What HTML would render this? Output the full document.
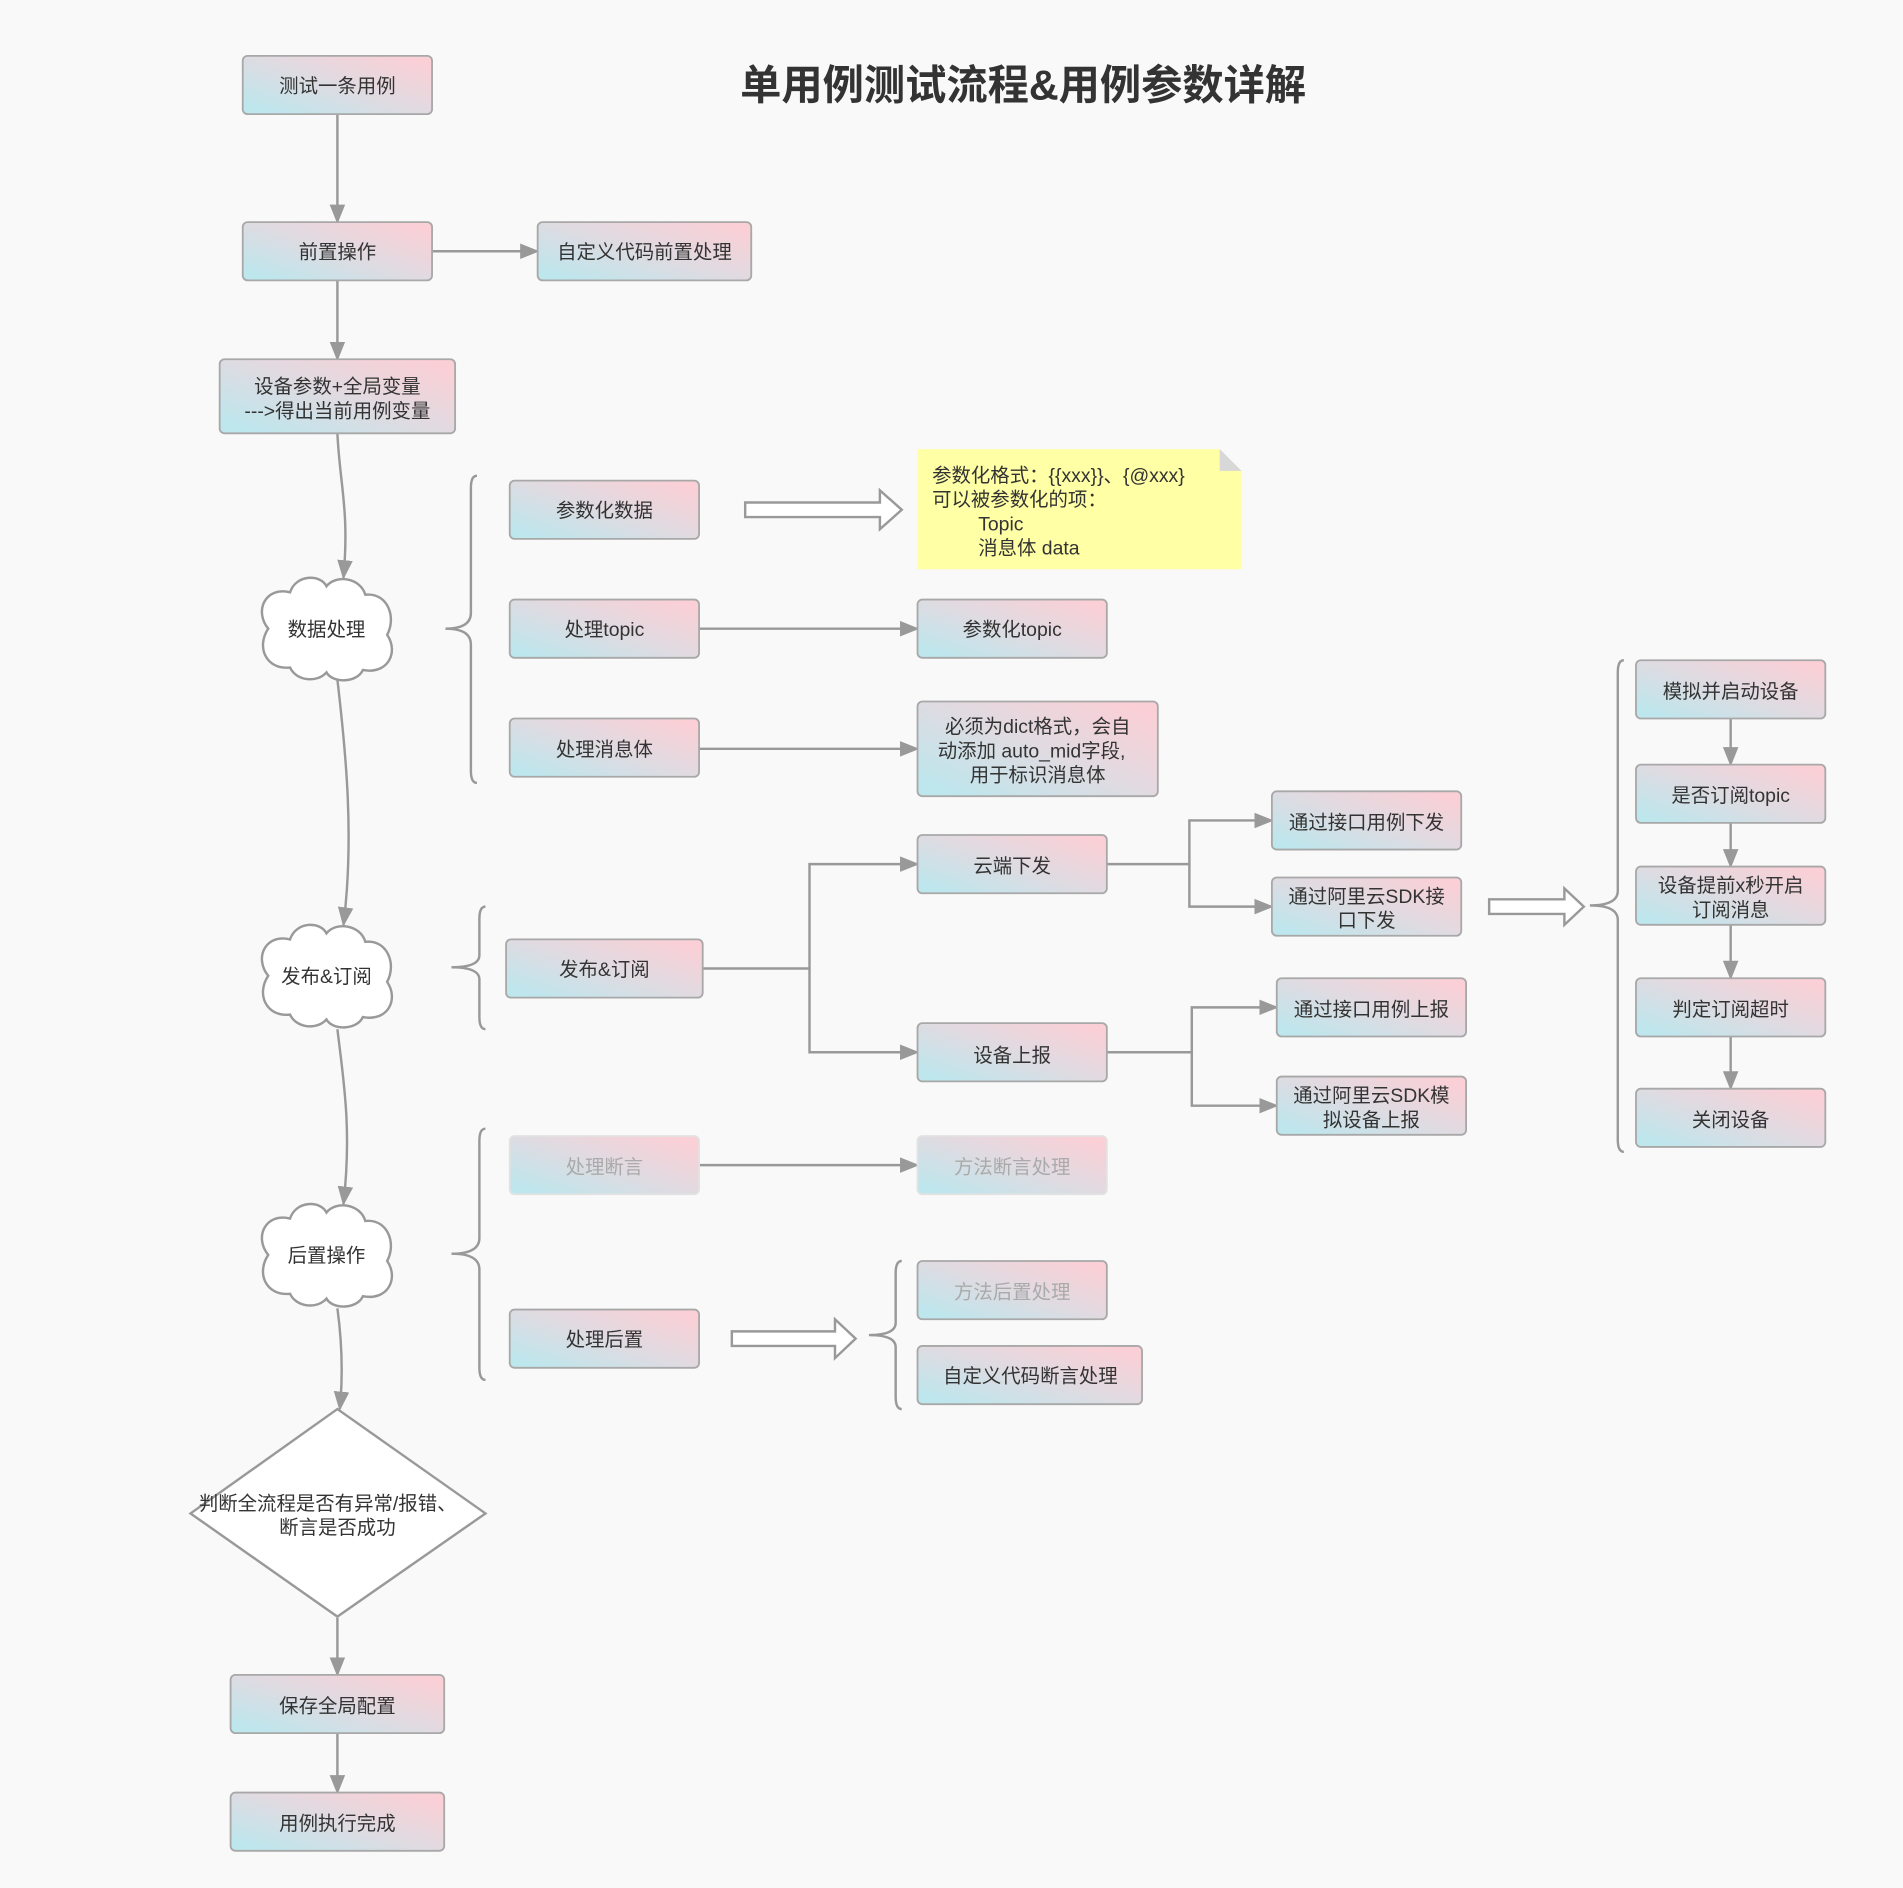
<!DOCTYPE html>
<html><head><meta charset="utf-8"><style>
html,body{margin:0;padding:0;background:#f9f9f9;}
svg{display:block;}
text{font-family:"Liberation Sans","Noto Sans CJK SC",sans-serif;font-size:16px;fill:#333;}
</style></head><body>
<svg width="1903" height="1888" viewBox="0 0 1568 1555.6" xmlns="http://www.w3.org/2000/svg">
<defs>
<linearGradient id="g" x1="0.05" y1="0.9" x2="0.95" y2="0.1">
<stop offset="0" stop-color="#bde6ed"/><stop offset="0.5" stop-color="#dfdbe1"/><stop offset="1" stop-color="#fbcfd6"/>
</linearGradient>
<marker id="ar" viewBox="0 0 10 10" refX="9" refY="5" markerWidth="16" markerHeight="16" orient="auto" markerUnits="userSpaceOnUse">
<path d="M0,1 L10,5 L0,9 z" fill="#999"/>
</marker>
<path id="cloud" d="M-30,32 C-50,34 -58,15 -48,0 C-60,-15 -50,-35 -30,-30 C-25,-45 -5,-45 0,-35 C8,-45 28,-42 32,-28 C50,-30 58,-10 50,5 C60,20 50,38 30,34 C25,45 5,45 0,36 C-8,45 -25,43 -30,32 Z"/>
</defs>
<rect width="1568" height="1556" fill="#f9f9f9"/>

<text x="843" y="82" text-anchor="middle" style="font-size:34px;font-weight:bold;fill:#333">单用例测试流程&amp;用例参数详解</text>

<g fill="none" stroke="#999" stroke-width="2">
<path d="M278,94 V183" marker-end="url(#ar)"/>
<path d="M356,207 H443" marker-end="url(#ar)"/>
<path d="M278,231 V296" marker-end="url(#ar)"/>
<path d="M278,357 C280,400 288,420 283,476" marker-end="url(#ar)"/>
<path d="M278,560 C285,620 292,690 283,762" marker-end="url(#ar)"/>
<path d="M278,848 C283,890 290,930 283,992" marker-end="url(#ar)"/>
<path d="M278,1078 C281,1100 283,1130 280,1161" marker-end="url(#ar)"/>
<path d="M278,1333 V1380" marker-end="url(#ar)"/>
<path d="M278,1428 V1477" marker-end="url(#ar)"/>
<path d="M576,518 H756" marker-end="url(#ar)"/>
<path d="M576,617 H756" marker-end="url(#ar)"/>
<path d="M579,798 H667 V712 H756" marker-end="url(#ar)"/>
<path d="M667,798 V867 H756" marker-end="url(#ar)"/>
<path d="M912,712 H980 V676 H1048" marker-end="url(#ar)"/>
<path d="M980,712 V747 H1048" marker-end="url(#ar)"/>
<path d="M912,867 H982 V830 H1052" marker-end="url(#ar)"/>
<path d="M982,867 V911 H1052" marker-end="url(#ar)"/>
<path d="M576,960 H756" marker-end="url(#ar)"/>
<path d="M1426,592 V630" marker-end="url(#ar)"/>
<path d="M1426,678 V714" marker-end="url(#ar)"/>
<path d="M1426,762 V806" marker-end="url(#ar)"/>
<path d="M1426,854 V897" marker-end="url(#ar)"/>
<path d="M393,392 Q388,392 388,402 V505 Q388,518 367,518 Q388,518 388,531 V635 Q388,645 393,645"/>
<path d="M400,747 Q395,747 395,757 V787 Q395,797 372,797 Q395,797 395,807 V838 Q395,848 400,848"/>
<path d="M400,930 Q395,930 395,940 V1020 Q395,1033 372,1033 Q395,1033 395,1046 V1127 Q395,1137 400,1137"/>
<path d="M743,1039 Q738,1039 738,1049 V1090 Q738,1100 716,1100 Q738,1100 738,1110 V1151 Q738,1161 743,1161"/>
<path d="M1338,544 Q1333,544 1333,554 V734 Q1333,746 1310,746 Q1333,746 1333,758 V939 Q1333,949 1338,949"/>
</g>

<g fill="#fff" stroke="#999" stroke-width="2">
<path d="M614,414 H725 V404 L743,420 L725,436 V426 H614 Z"/>
<path d="M603,1097 H688 V1087 L705,1103 L688,1119 V1109 H603 Z"/>
<path d="M1227,741 H1289 V732 L1305,747 L1289,762 V753 H1227 Z"/>
</g>

<g stroke="#a8a8a8" stroke-width="1.5" fill="url(#g)">
<rect x="200" y="46" width="156" height="48" rx="4"/>
<rect x="200" y="183" width="156" height="48" rx="4"/>
<rect x="443" y="183" width="176" height="48" rx="4"/>
<rect x="181" y="296" width="194" height="61" rx="4"/>
<rect x="420" y="396" width="156" height="48" rx="4"/>
<rect x="420" y="494" width="156" height="48" rx="4"/>
<rect x="420" y="592" width="156" height="48" rx="4"/>
<rect x="756" y="494" width="156" height="48" rx="4"/>
<rect x="756" y="578" width="198" height="78" rx="4"/>
<rect x="756" y="688" width="156" height="48" rx="4"/>
<rect x="1048" y="652" width="156" height="48" rx="4"/>
<rect x="1048" y="723" width="156" height="48" rx="4"/>
<rect x="417" y="774" width="162" height="48" rx="4"/>
<rect x="756" y="843" width="156" height="48" rx="4"/>
<rect x="1052" y="806" width="156" height="48" rx="4"/>
<rect x="1052" y="887" width="156" height="48" rx="4"/>
<rect x="420" y="1079" width="156" height="48" rx="4"/>
<rect x="756" y="1039" width="156" height="48" rx="4"/>
<rect x="756" y="1109" width="185" height="48" rx="4"/>
<rect x="1348" y="544" width="156" height="48" rx="4"/>
<rect x="1348" y="630" width="156" height="48" rx="4"/>
<rect x="1348" y="714" width="156" height="48" rx="4"/>
<rect x="1348" y="806" width="156" height="48" rx="4"/>
<rect x="1348" y="897" width="156" height="48" rx="4"/>
<rect x="190" y="1380" width="176" height="48" rx="4"/>
<rect x="190" y="1477" width="176" height="48" rx="4"/>
</g>
<g stroke="#e2e2e2" stroke-width="1.5" fill="url(#g)">
<rect x="420" y="936" width="156" height="48" rx="4"/>
<rect x="756" y="936" width="156" height="48" rx="4"/>
</g>

<path d="M756,370 H1005 L1023,388 V469 H756 Z" fill="#ffffa6"/>
<path d="M1005,370 V388 H1023 Z" fill="#d8d8d8"/>

<g fill="#fff" stroke="#999" stroke-width="2">
<use href="#cloud" transform="translate(269,518)"/>
<use href="#cloud" transform="translate(269,804)"/>
<use href="#cloud" transform="translate(269,1034)"/>
</g>
<path d="M278,1161 L400,1247 L278,1332 L157,1247 Z" fill="#fff" stroke="#999" stroke-width="2"/>

<g text-anchor="middle">
<text x="278" y="76">测试一条用例</text>
<text x="278" y="213">前置操作</text>
<text x="531" y="213">自定义代码前置处理</text>
<text x="278" y="324">设备参数+全局变量</text>
<text x="278" y="344">---&gt;得出当前用例变量</text>
<text x="498" y="426">参数化数据</text>
<text x="498" y="524">处理topic</text>
<text x="498" y="623">处理消息体</text>
<text x="834" y="524">参数化topic</text>
<text x="855" y="604">必须为dict格式，会自</text>
<text x="850" y="624">动添加 auto_mid字段,</text>
<text x="855" y="644">用于标识消息体</text>
<text x="834" y="719">云端下发</text>
<text x="1126" y="683">通过接口用例下发</text>
<text x="1126" y="744">通过阿里云SDK接</text>
<text x="1126" y="764">口下发</text>
<text x="498" y="804">发布&amp;订阅</text>
<text x="834" y="875">设备上报</text>
<text x="1130" y="837">通过接口用例上报</text>
<text x="1130" y="908">通过阿里云SDK模</text>
<text x="1130" y="928">拟设备上报</text>
<text x="498" y="967" style="fill:#aaa">处理断言</text>
<text x="834" y="967" style="fill:#aaa">方法断言处理</text>
<text x="498" y="1109">处理后置</text>
<text x="834" y="1070" style="fill:#aaa">方法后置处理</text>
<text x="849" y="1139">自定义代码断言处理</text>
<text x="1426" y="575">模拟并启动设备</text>
<text x="1426" y="661">是否订阅topic</text>
<text x="1426" y="735">设备提前x秒开启</text>
<text x="1426" y="755">订阅消息</text>
<text x="1426" y="837">判定订阅超时</text>
<text x="1426" y="928">关闭设备</text>
<text x="278" y="1411">保存全局配置</text>
<text x="278" y="1508">用例执行完成</text>
<text x="269" y="524">数据处理</text>
<text x="269" y="810">发布&amp;订阅</text>
<text x="269" y="1040">后置操作</text>
<text x="270" y="1244">判断全流程是否有异常/报错、</text>
<text x="278" y="1264">断言是否成功</text>
</g>
<g>
<text x="768" y="397">参数化格式：{{xxx}}、{@xxx}</text>
<text x="768" y="417">可以被参数化的项：</text>
<text x="806" y="437">Topic</text>
<text x="806" y="457">消息体 data</text>
</g>
</svg>
</body></html>
